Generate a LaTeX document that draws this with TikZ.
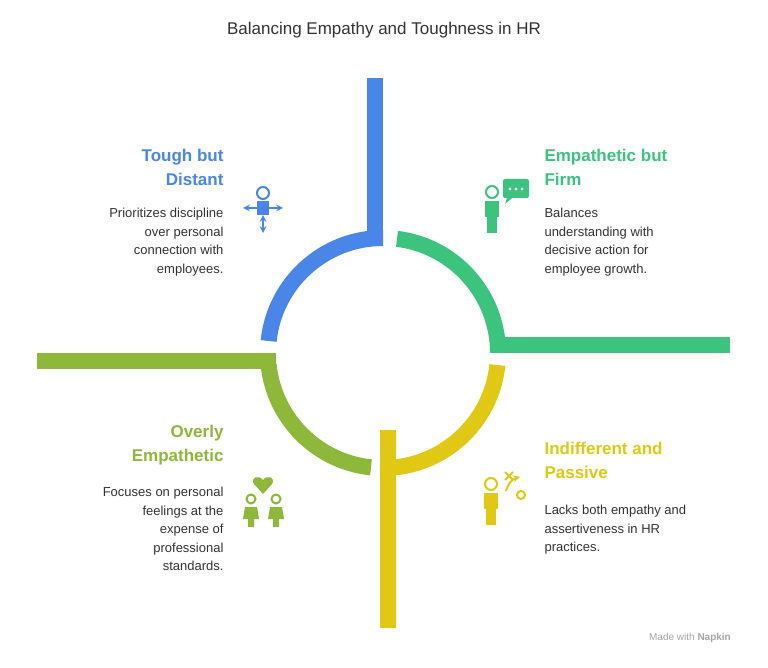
\documentclass[tikz,border=0pt]{standalone}
\usepackage{fontspec}
\setmainfont{Liberation Sans}
\usetikzlibrary{calc}
\definecolor{cb}{HTML}{4A86E8}
\definecolor{cg}{HTML}{3CC47F}
\definecolor{cy}{HTML}{E0C814}
\definecolor{co}{HTML}{8DB83A}
\definecolor{tx}{HTML}{333333}
\begin{document}
\begin{tikzpicture}[x=1pt,y=1pt,
 head/.style={font=\fontsize{17}{24}\selectfont\bfseries},
 body/.style={font=\fontsize{13}{18.5}\selectfont,text=tx},
 icon/.style={line width=2pt}]
\useasboundingbox (0,0) rectangle (768,667);
\fill[white] (0,0) rectangle (768,667);
\coordinate (c) at (383,314);
\newcommand\qarc[3]{\fill[#1] ($(c)+(#2:123)$) arc[start angle=#2,end angle=#3,radius=123] -- ($(c)+(#3:107)$) arc[start angle=#3,end angle=#2,radius=107] -- cycle;}
\qarc{cb}{90}{174}
\fill[cb] (367,421) rectangle (383,589);
\qarc{cg}{0}{83}
\fill[cg] (490,314) rectangle (730,330);
\qarc{cy}{-6}{-90}
\fill[cy] (380,39) rectangle (396,237);
\qarc{co}{186}{264}
\fill[co] (37,298) rectangle (276,314);
\node[font=\fontsize{17}{20}\selectfont,text=tx] (title) at (384,637) {Balancing Empathy and Toughness in HR};
\node[head,text=cb,align=right,anchor=north east] (h1) at (227,521) {Tough but\\Distant};
\node[body,align=right,anchor=north east] (b1) at (227,462) {Prioritizes discipline\\over personal\\connection with\\employees.};
\node[head,text=cg,align=left,anchor=north west] (h2) at (541,521) {Empathetic but\\Firm};
\node[body,align=left,anchor=north west] (b2) at (541,462) {Balances\\understanding with\\decisive action for\\employee growth.};
\node[head,text=cy,align=left,anchor=north west] (h3) at (541,228) {Indifferent and\\Passive};
\node[body,align=left,anchor=north west] (b3) at (541,165) {Lacks both empathy and\\assertiveness in HR\\practices.};
\node[head,text=co,align=right,anchor=north east] (h4) at (227,245) {Overly\\Empathetic};
\node[body,align=right,anchor=north east] (b4) at (227,183) {Focuses on personal\\feelings at the\\expense of\\professional\\standards.};
\node[font=\fontsize{10}{12}\selectfont,text=gray!70] (wm) at (690,29) {Made with \textbf{Napkin}};
% icon blue
\begin{scope}[cb,icon]
\draw (263,474) circle (6);
\fill (257,466) rectangle (269,452);
\draw[<->,>=stealth] (243,459) -- (283,459);
\draw[<->,>=stealth] (263,452) -- (263,434);
\end{scope}
% icon green
\begin{scope}[cg,icon]
\draw (492,475) circle (6);
\fill (485,466) rectangle (499,450);
\fill (487,450) rectangle (497,434);
\fill[rounded corners=2] (503,469) rectangle (529,488);
\fill (507,469) -- (505,463) -- (512,469) -- cycle;
\fill[white] (510,478) circle (1.6) (516,478) circle (1.6) (522,478) circle (1.6);
\end{scope}
% icon yellow
\begin{scope}[cy,icon]
\draw (491,183) circle (6);
\fill (484,174) rectangle (498,158);
\fill (486,158) rectangle (496,142);
\draw (505,187) -- (513,195) (505,195) -- (513,187);
\draw (521,172) circle (4);
\draw[->,>=stealth] (506,176) to[bend left] (520,190);
\end{scope}
% icon olive
\begin{scope}[co,icon]
\fill (263,173) -- (254,183) .. controls (250,189) and (258,193) .. (263,187) .. controls (268,193) and (276,189) .. (272,183) -- cycle;
\draw (251,168) circle (4.5) (276,168) circle (4.5);
\fill (245,160) -- (257,160) -- (259,148) -- (243,148) -- cycle;
\fill (270,160) -- (282,160) -- (284,148) -- (268,148) -- cycle;
\fill (248,148) rectangle (254,140) (273,148) rectangle (279,140);
\end{scope}
\end{tikzpicture}
\end{document}
